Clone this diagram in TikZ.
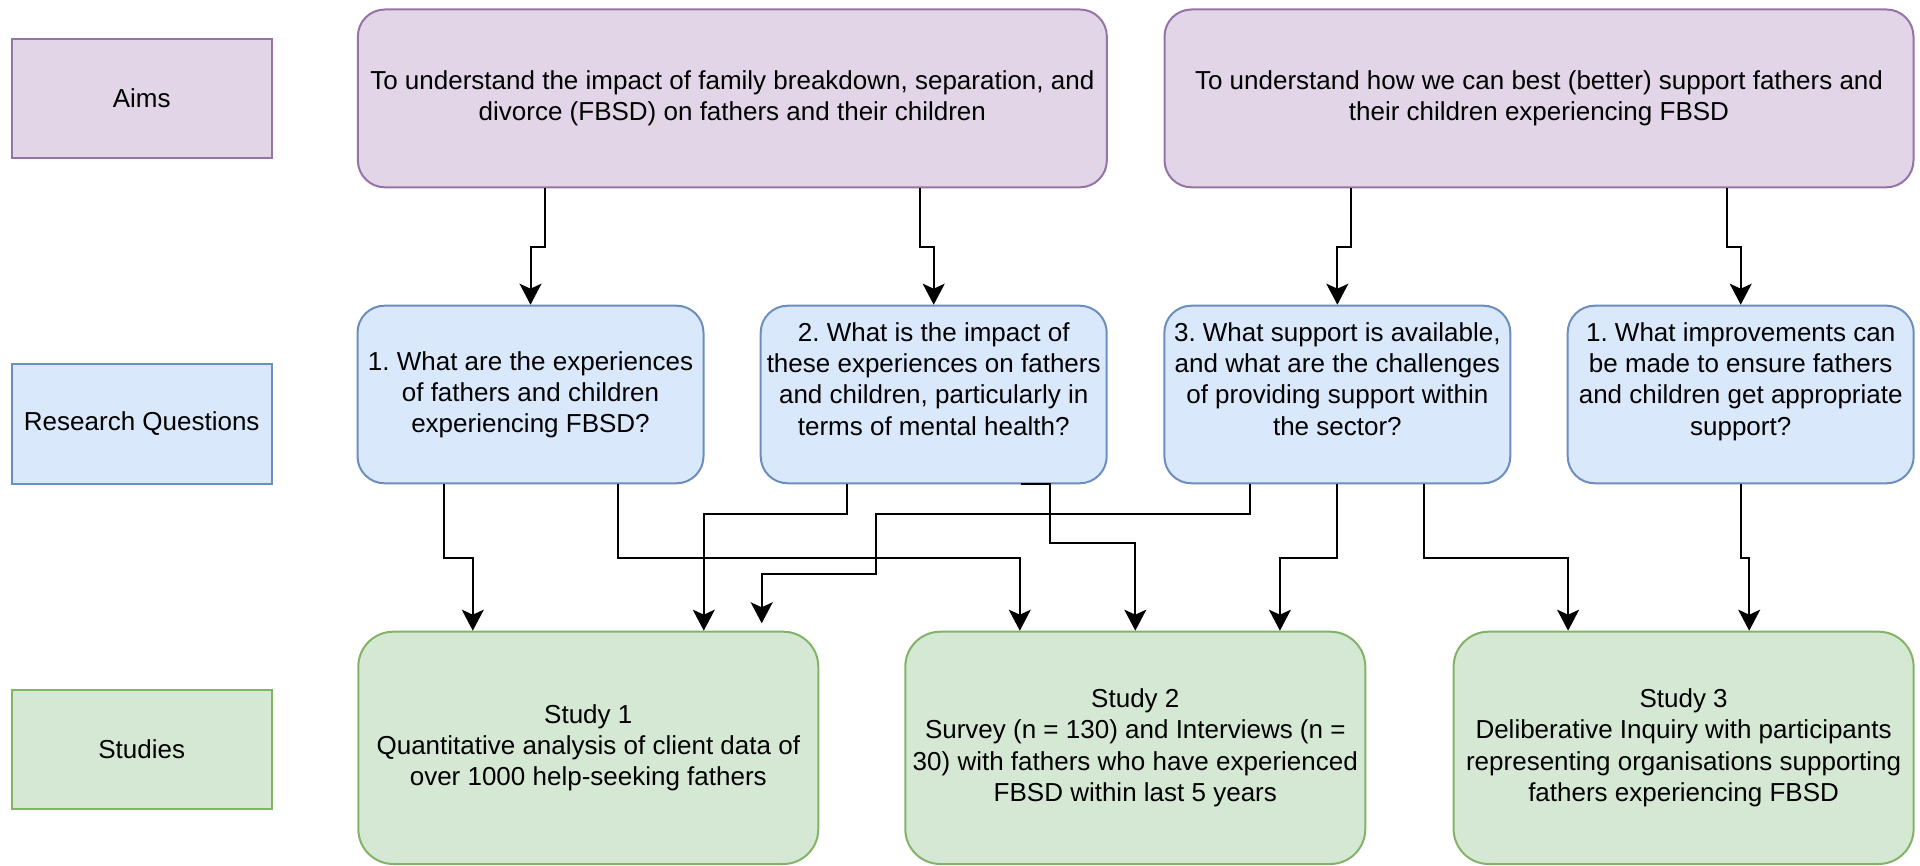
\documentclass[tikz,border=0pt]{standalone}
\usepackage{fontspec}
\setmainfont{Liberation Sans}
\usetikzlibrary{calc,arrows.meta}
\definecolor{pfill}{HTML}{E1D5E7}
\definecolor{pline}{HTML}{9673A6}
\definecolor{bfill}{HTML}{DAE8FC}
\definecolor{bline}{HTML}{6C8EBF}
\definecolor{gfill}{HTML}{D5E8D4}
\definecolor{gline}{HTML}{82B366}
\frenchspacing
\begin{document}
\begin{tikzpicture}[x=1pt,y=-1pt,
  box/.style={draw, line width=2pt, inner sep=0pt, align=center, text=black,
    font=\fontsize{26}{31.2}\selectfont},
  purplebox/.style={box, fill=pfill, draw=pline},
  bluebox/.style={box, fill=bfill, draw=bline},
  greenbox/.style={box, fill=gfill, draw=gline},
  lbl/.style={rectangle, minimum width=260.5pt, minimum height=119pt},
  aimbox/.style={rectangle, rounded corners=27pt, minimum width=749pt, minimum height=177.8pt},
  rqbox/.style={rectangle, rounded corners=27pt, minimum width=346pt, minimum height=177.6pt},
  stbox/.style={rectangle, rounded corners=35pt, minimum width=460pt, minimum height=232.3pt},
  arr/.style={line width=2pt, draw=black, -{Stealth[length=21pt,width=22pt,inset=5pt]}}
]
\useasboundingbox (0,0) rectangle (1920,866);

% row labels
\node[purplebox, lbl] (aimsL) at (141.75,98.4) {Aims};
\node[bluebox, lbl] (rqL) at (141.75,424) {Research Questions};
\node[greenbox, lbl] (stL) at (141.75,749) {Studies};

% aims
\node[purplebox, aimbox] (aim1) at (732.35,98.4)
  {To understand the impact of family breakdown, separation, and\\divorce (FBSD) on fathers and their children};
\node[purplebox, aimbox] (aim2) at (1539,98.4)
  {To understand how we can best (better) support fathers and\\their children experiencing FBSD};

% research questions
\node[bluebox, rqbox] (rq1) at (530.5,394.5)
  {1. What are the experiences\\of fathers and children\\experiencing FBSD?};
\node[bluebox, rqbox] (rq2) at (933.7,394.5)
  {2. What is the impact of\\these experiences on fathers\\and children, particularly in\\terms of mental health?\\~};
\node[bluebox, rqbox] (rq3) at (1337.35,394.5)
  {3. What support is available,\\and what are the challenges\\of providing support within\\the sector?\\~};
\node[bluebox, rqbox] (rq4) at (1740.7,394.5)
  {1. What improvements can\\be made to ensure fathers\\and children get appropriate\\support?\\~};

% studies
\node[greenbox, stbox] (st1) at (588.3,747.85)
  {Study 1\\Quantitative analysis of client data of\\over 1000 help-seeking fathers};
\node[greenbox, stbox] (st2) at (1135.3,747.85)
  {Study 2\\Survey (n = 130) and Interviews (n =\\30) with fathers who have experienced\\FBSD within last 5 years};
\node[greenbox, stbox] (st3) at (1683.6,747.85)
  {Study 3\\Deliberative Inquiry with participants\\representing organisations supporting\\fathers experiencing FBSD};

\coordinate (e5) at (761.7,623.3);

% aims -> research questions
\draw[arr] ($(aim1.south west)!0.25!(aim1.south east)$) -- ++(0,59) -| (rq1.north);
\draw[arr] ($(aim1.south west)!0.75!(aim1.south east)$) -- ++(0,59) -| (rq2.north);
\draw[arr] ($(aim2.south west)!0.25!(aim2.south east)$) -- ++(0,59) -| (rq3.north);
\draw[arr] ($(aim2.south west)!0.75!(aim2.south east)$) -- ++(0,59) -| (rq4.north);

% research questions -> studies
\draw[arr] ($(rq1.south west)!0.25!(rq1.south east)$) -- ++(0,74) -| ($(st1.north west)!0.25!(st1.north east)$);
\draw[arr] ($(rq1.south west)!0.75!(rq1.south east)$) -- ++(0,74) -| ($(st2.north west)!0.25!(st2.north east)$);
\draw[arr] ($(rq2.south west)!0.25!(rq2.south east)$) -- ++(0,30) -| ($(st1.north west)!0.75!(st1.north east)$);
\draw[arr] ($(rq2.south west)!0.75!(rq2.south east)$) -- ++(29.3,0) -- ++(0,58.7) -| (st2.north);
\draw[arr] ($(rq3.south west)!0.25!(rq3.south east)$) -- ++(0,30) -- ++(-374.7,0) -- ++(0,59.4) -| (e5);
\draw[arr] (rq3.south) -- ++(0,74) -| ($(st2.north west)!0.813!(st2.north east)$);
\draw[arr] ($(rq3.south west)!0.75!(rq3.south east)$) -- ++(0,74) -| ($(st3.north west)!0.25!(st3.north east)$);
\draw[arr] (rq4.south) -- ++(0,74) -| ($(st3.north west)!0.642!(st3.north east)$);
\end{tikzpicture}
\end{document}
